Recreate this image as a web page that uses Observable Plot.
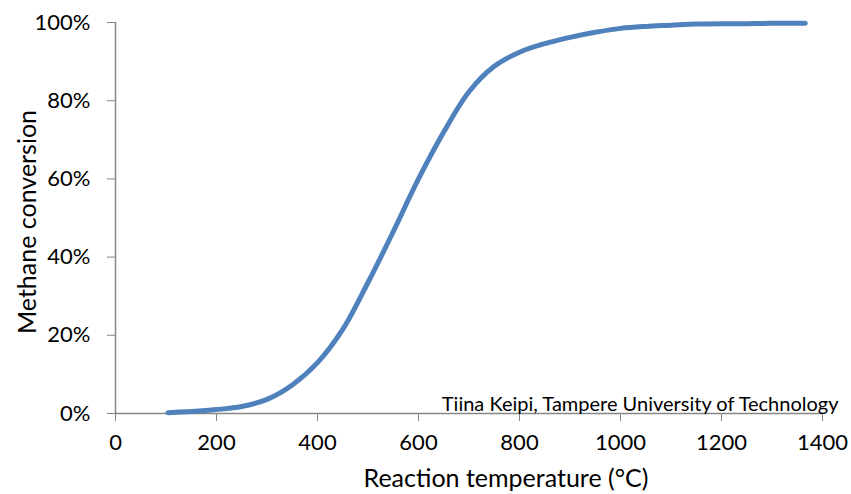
<!DOCTYPE html>
<html>
<head>
<meta charset="utf-8">
<script src="https://cdn.jsdelivr.net/npm/d3@7"></script>
<script src="https://cdn.jsdelivr.net/npm/@observablehq/plot@0.6"></script>
<style>
  html, body { margin: 0; padding: 0; background: #fff; }
  #chart svg { display: block; }
</style>
</head>
<body>
<div id="chart"></div>
<script>
// Reaction temperature (°C)
const temperature = [104, 150, 200, 250, 300, 350, 400, 450, 500, 550, 600, 650, 700, 750, 800, 850, 900, 950, 1000, 1050, 1100, 1150, 1200, 1250, 1300, 1366];
// Methane conversion (fraction)
const conversion = [0.002, 0.005, 0.010, 0.018, 0.036, 0.073, 0.13, 0.215, 0.335, 0.465, 0.60, 0.72, 0.823, 0.888, 0.924, 0.946, 0.962, 0.975, 0.985, 0.99, 0.993, 0.996, 0.997, 0.997, 0.998, 0.998];
const xTicks = [0, 200, 400, 600, 800, 1000, 1200, 1400];
const yTicks = [0, 0.2, 0.4, 0.6, 0.8, 1.0];
const xLabel = "Reaction temperature (°C)";
const yLabel = "Methane conversion";
const credit = "Tiina Keipi, Tampere University of Technology";

const data = temperature.map((t, i) => ({t, v: conversion[i]}));
const font = "Lato, 'Open Sans', sans-serif";
const axisColor = "#868686";

const chart = Plot.plot({
  width: 851,
  height: 494,
  marginLeft: 115,
  marginRight: 29,
  marginTop: 22,
  marginBottom: 81,
  style: {fontFamily: font, fontSize: "22px", color: "#000", background: "#fff"},
  x: {domain: [0, 1400], ticks: xTicks},
  y: {domain: [0, 1], ticks: yTicks},
  marks: [
    Plot.ruleY([0], {stroke: axisColor, strokeWidth: 1.5}),
    Plot.ruleX([0], {stroke: axisColor, strokeWidth: 1.5}),
    Plot.axisX({ticks: xTicks, tickSize: 8, tickPadding: 13, stroke: axisColor, fill: "#000", fontSize: 22, tickFormat: d => String(d), label: null}),
    Plot.axisY({ticks: yTicks, tickSize: 8, tickPadding: 17, stroke: axisColor, fill: "#000", fontSize: 22, tickFormat: d => Math.round(d * 100) + "%", label: null}),
    Plot.line(data, {x: "t", y: "v", stroke: "#4F81BD", strokeWidth: 5, curve: "catmull-rom", strokeLinecap: "round", strokeLinejoin: "round"}),
    Plot.text([credit], {frameAnchor: "bottom-right", textAnchor: "end", lineAnchor: "bottom", dx: 16, dy: -3, fontSize: 20, fill: "#000"}),
    Plot.text([xLabel], {frameAnchor: "bottom", lineAnchor: "middle", dx: 37, dy: 65, fontSize: 25, fill: "#000"}),
    Plot.text([yLabel], {frameAnchor: "left", textAnchor: "middle", rotate: -90, dx: -88, dy: 4, fontSize: 25, fill: "#000"})
  ]
});
document.getElementById("chart").appendChild(chart);
</script>
</body>
</html>
